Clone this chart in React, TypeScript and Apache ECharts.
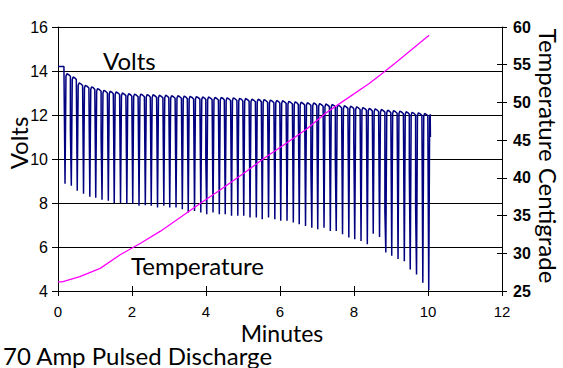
import React, { useEffect, useRef } from "react";
import * as echarts from "echarts";

// ---- Voltage trace (pulsed discharge) ----
const initialLevel = 14.2;
const initialEnd = 0.16;

const pulseTimes = [
  0.19, 0.36, 0.52, 0.69, 0.86, 1.02, 1.19, 1.36, 1.52, 1.69,
  1.86, 2.02, 2.19, 2.36, 2.52, 2.69, 2.86, 3.02, 3.19, 3.36,
  3.52, 3.69, 3.86, 4.02, 4.19, 4.36, 4.52, 4.69, 4.86, 5.02,
  5.19, 5.36, 5.52, 5.69, 5.86, 6.02, 6.19, 6.36, 6.52, 6.69,
  6.86, 7.02, 7.19, 7.36, 7.52, 7.69, 7.86, 8.02, 8.19, 8.36,
  8.52, 8.69, 8.86, 9.02, 9.19, 9.36, 9.52, 9.69, 9.86, 10.02,
];

const dipLows = [
  8.88, 8.79, 8.56, 8.42, 8.28, 8.24, 8.15, 8.1, 8.0, 8.0,
  7.95, 7.95, 7.87, 7.9, 7.87, 7.8, 7.87, 7.8, 7.8, 7.72,
  7.57, 7.64, 7.57, 7.49, 7.57, 7.49, 7.49, 7.42, 7.42, 7.42,
  7.34, 7.34, 7.26, 7.34, 7.26, 7.19, 7.19, 7.11, 7.04, 6.96,
  6.88, 6.81, 6.88, 6.73, 6.73, 6.58, 6.43, 6.35, 6.27, 6.12,
  6.6, 6.45, 5.75, 5.6, 5.45, 5.35, 4.98, 4.75, 4.37, 4.05,
];

const peakHighs = [
  13.88, 13.73, 13.46, 13.35, 13.28, 13.2, 13.12, 13.08, 13.05, 13.0,
  12.97, 12.95, 12.95, 12.93, 12.92, 12.9, 12.9, 12.88, 12.88, 12.86,
  12.85, 12.84, 12.82, 12.82, 12.8, 12.8, 12.78, 12.78, 12.76, 12.75,
  12.72, 12.72, 12.7, 12.68, 12.66, 12.65, 12.62, 12.6, 12.58, 12.56,
  12.55, 12.52, 12.5, 12.48, 12.45, 12.42, 12.4, 12.37, 12.34, 12.3,
  12.28, 12.25, 12.22, 12.2, 12.18, 12.15, 12.12, 12.1, 12.07, 12.03,
];

// intermediate samples caught on the falling edge (null = none)
const notchLevels: (number | null)[] = [
  null, 11.3, null, null, null, null, 11.0, null, null, null,
  null, null, null, null, null, null, null, null, null, null,
  null, null, null, 9.9, null, null, null, null, null, null,
  null, null, null, null, null, null, null, null, null, null,
  9.6, null, null, null, 9.85, null, null, 10.8, null, null,
  null, null, 7.6, null, null, null, 9.5, 7.8, null, null,
];

const tailTimes = [10.045, 10.06, 10.065];
const tailValues = [11.95, 12.0, 11.0];

// ---- Temperature ----
const tempTimes = [
  0, 0.11, 0.59, 1.14, 1.68, 2.22, 2.76, 3.35, 3.84, 4.38,
  5.05, 5.57, 6.11, 6.73, 7.24, 7.78, 8.41, 8.7, 9.11, 9.38, 10.03,
];
const tempValues = [
  26.2, 26.2, 26.9, 28.0, 29.8, 31.3, 32.9, 34.9, 36.6, 38.4,
  40.7, 42.6, 44.4, 46.5, 48.6, 50.4, 52.5, 53.6, 55.2, 56.3, 58.9,
];

const FONT = "Lato, 'Open Sans', sans-serif";
const TICK_FONT = "'Liberation Sans', Arial, sans-serif";

function buildVolts(): number[][] {
  const pts: number[][] = [
    [0, initialLevel],
    [initialEnd, initialLevel],
  ];
  let prevEnd = initialLevel;
  for (let k = 0; k < pulseTimes.length; k++) {
    const t = pulseTimes[k];
    const n = notchLevels[k];
    pts.push([t - 0.025, prevEnd]);
    if (n !== null) {
      pts.push([t - 0.025, n]);
      pts.push([t - 0.006, n]);
    }
    pts.push([t, dipLows[k]]);
    const p = peakHighs[k];
    pts.push([t + 0.025, p - 0.12]);
    pts.push([t + 0.05, p]);
    if (k < pulseTimes.length - 1) {
      pts.push([t + 0.1, p - 0.05]);
      prevEnd = p - 0.12;
    }
  }
  for (let i = 0; i < tailTimes.length; i++) pts.push([tailTimes[i], tailValues[i]]);
  return pts;
}

export default function App() {
  const ref = useRef<HTMLDivElement>(null);
  useEffect(() => {
    if (!ref.current) return;
    const chart = echarts.init(ref.current, null, { renderer: "svg" });
    const voltData = buildVolts();
    const tempData = tempTimes.map((t, i) => [t, tempValues[i]]);
    const black = "#000";
    chart.setOption({
      animation: false,
      backgroundColor: "#fff",
      grid: { left: 58, right: 61, top: 27, bottom: 77, containLabel: false },
      xAxis: [
        {
          type: "value",
          min: 0,
          max: 12,
          interval: 2,
          position: "bottom",
          axisLine: { show: true, onZero: false, lineStyle: { color: black, width: 1 } },
          axisTick: { show: true, inside: false, length: 5, lineStyle: { color: black } },
          axisLabel: { color: black, fontSize: 15, lineHeight: 12, fontFamily: TICK_FONT, margin: 14 },
          splitLine: { show: false },
        },
        {
          type: "value",
          min: 0,
          max: 12,
          interval: 2,
          position: "bottom",
          axisLine: { show: false, onZero: false },
          axisTick: { show: true, inside: true, length: 5, lineStyle: { color: black } },
          axisLabel: { show: false },
          splitLine: { show: false },
        },
      ],
      yAxis: [
        {
          type: "value",
          min: 4,
          max: 16,
          interval: 2,
          position: "left",
          axisLine: { show: true, onZero: false, lineStyle: { color: black, width: 1 } },
          axisTick: { show: true, inside: false, length: 6, lineStyle: { color: black } },
          axisLabel: { color: black, fontSize: 16, fontFamily: TICK_FONT, margin: 10 },
          splitLine: { show: true, lineStyle: { color: black, width: 1 } },
        },
        {
          type: "value",
          min: 25,
          max: 60,
          interval: 5,
          position: "right",
          axisLine: { show: true, onZero: false, lineStyle: { color: black, width: 1 } },
          axisTick: { show: true, inside: false, length: 5, lineStyle: { color: black } },
          axisLabel: {
            color: black,
            fontSize: 16,
            fontWeight: "bold",
            fontFamily: TICK_FONT,
            margin: 11,
          },
          splitLine: { show: false },
        },
        {
          type: "value",
          min: 25,
          max: 60,
          interval: 5,
          position: "right",
          axisLine: { show: false, onZero: false },
          axisTick: { show: true, inside: true, length: 5, lineStyle: { color: black } },
          axisLabel: { show: false },
          splitLine: { show: false },
        },
      ],
      series: [
        {
          name: "Volts",
          type: "line",
          xAxisIndex: 0,
          yAxisIndex: 0,
          data: voltData,
          showSymbol: false,
          symbol: "none",
          lineStyle: { color: "#000080", width: 1.5 },
          z: 2,
        },
        {
          name: "Temperature",
          type: "line",
          xAxisIndex: 0,
          yAxisIndex: 1,
          data: tempData,
          showSymbol: false,
          symbol: "none",
          lineStyle: { color: "#FF00FF", width: 1.3 },
          z: 3,
        },
      ],
      graphic: [
        {
          type: "text",
          x: 18,
          y: 143,
          rotation: Math.PI / 2,
          style: { text: "Volts", font: `24px ${FONT}`, fill: black, textAlign: "center", textVerticalAlign: "middle" },
        },
        {
          type: "text",
          x: 548,
          y: 156,
          rotation: -Math.PI / 2,
          style: {
            text: "Temperature Centigrade",
            font: `24px ${FONT}`,
            fill: black,
            textAlign: "center",
            textVerticalAlign: "middle",
          },
        },
        {
          type: "text",
          x: 282,
          y: 333,
          style: {
            text: "Minutes",
            font: `23px ${FONT}`,
            lineHeight: 18,
            fill: black,
            textAlign: "center",
            textVerticalAlign: "middle",
          },
        },
        {
          type: "text",
          x: 3,
          y: 355,
          style: {
            text: "70 Amp Pulsed Discharge",
            font: `24px ${FONT}`,
            fill: black,
            textAlign: "left",
            textVerticalAlign: "middle",
          },
        },
        {
          type: "text",
          x: 103,
          y: 60,
          style: { text: "Volts", font: `24px ${FONT}`, fill: black, textAlign: "left", textVerticalAlign: "middle" },
        },
        {
          type: "text",
          x: 131,
          y: 265,
          style: { text: "Temperature", font: `24px ${FONT}`, fill: black, textAlign: "left", textVerticalAlign: "middle" },
        },
      ],
    });
    return () => chart.dispose();
  }, []);
  return (
    <div
      ref={ref}
      style={{ position: "fixed", left: 0, top: 0, width: 563, height: 368, background: "#fff" }}
    />
  );
}
